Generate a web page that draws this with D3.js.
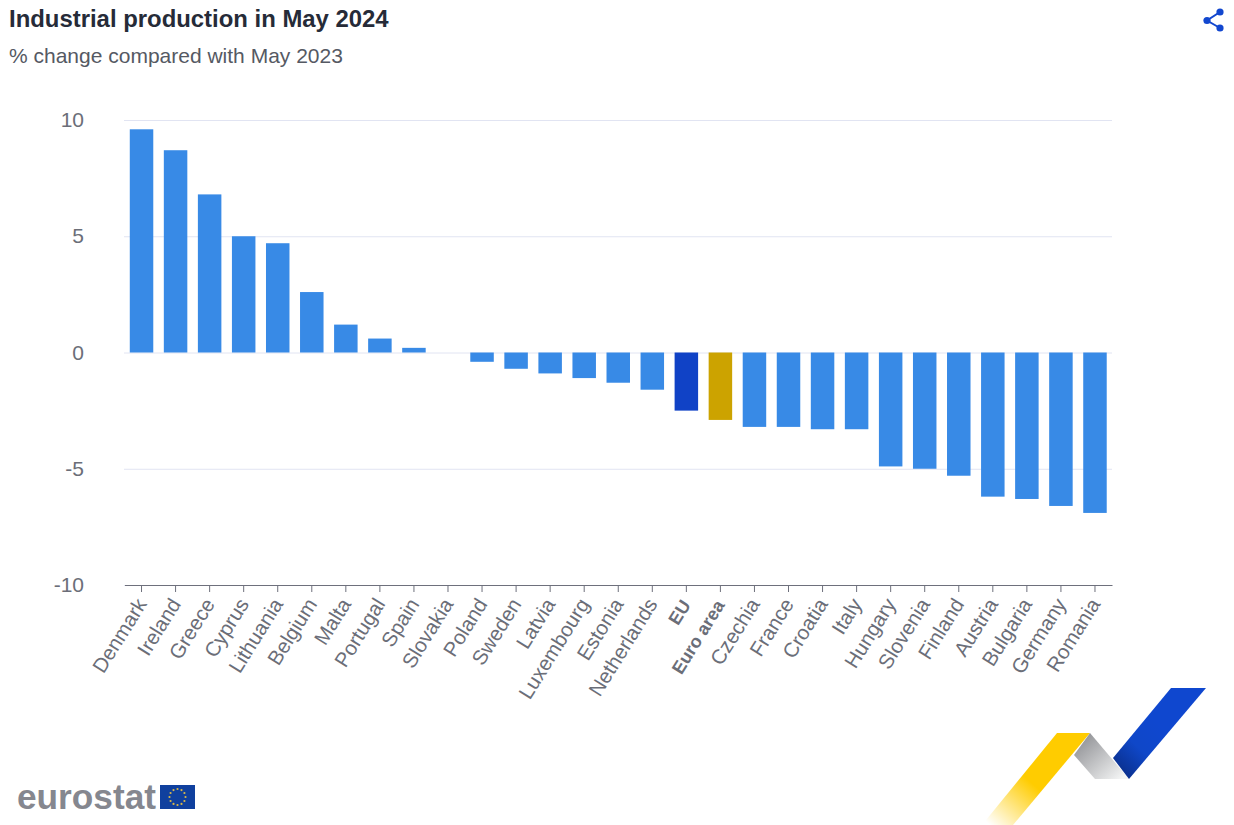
<!doctype html>
<html>
<head>
    <title>Industrial production in May 2024</title>
    <script src="https://d3js.org/d3.v7.min.js"></script>
    <style>
        html, body { margin: 0; padding: 0; background: #fff; }
        svg { display: block; font-family: "Liberation Sans", Arial, sans-serif; }
    </style>
</head>
<body>
<script>
    // chart data
    var countries = ['Denmark', 'Ireland', 'Greece', 'Cyprus', 'Lithuania', 'Belgium', 'Malta', 'Portugal',
        'Spain', 'Slovakia', 'Poland', 'Sweden', 'Latvia', 'Luxembourg', 'Estonia', 'Netherlands', 'EU',
        'Euro area', 'Czechia', 'France', 'Croatia', 'Italy', 'Hungary', 'Slovenia', 'Finland', 'Austria',
        'Bulgaria', 'Germany', 'Romania'];
    var changes = [9.6, 8.7, 6.8, 5.0, 4.7, 2.6, 1.2, 0.6, 0.2, 0, -0.4, -0.7, -0.9, -1.1, -1.3, -1.6, -2.5,
        -2.9, -3.2, -3.2, -3.3, -3.3, -4.9, -5.0, -5.3, -6.2, -6.3, -6.6, -6.9];
    var yTicks = [10, 5, 0, -5, -10];
    var aggregates = ['EU', 'Euro area'];

    var canvasWidth = 1234;
    var canvasHeight = 825;

    var svg = d3.select('body').append('svg')
        .attr('width', canvasWidth)
        .attr('height', canvasHeight);

    var defs = svg.append('defs');

    function gradient(id, x1, y1, x2, y2, stops) {
        var g = defs.append('linearGradient').attr('id', id)
            .attr('gradientUnits', 'userSpaceOnUse')
            .attr('x1', x1).attr('y1', y1).attr('x2', x2).attr('y2', y2);
        stops.forEach(function(s) {
            g.append('stop').attr('offset', s[0]).attr('stop-color', s[1]).attr('stop-opacity', s[2]);
        });
    }
    gradient('yellowFade', 1062, 745, 990, 825, [[0, '#ffcc00', 1], [0.45, '#ffcc00', 1], [1, '#ffcc00', 0]]);
    gradient('greyFade', 1078, 738, 1118, 782, [[0, '#8f9094', 1], [1, '#f4f5f5', 1]]);
    gradient('blueFade', 1165, 730, 1122, 775, [[0, '#0f47cf', 1], [0.5, '#0f47c8', 1], [1, '#0a2f8c', 1]]);

    // title
    svg.append('text').attr('x', 9).attr('y', 27)
        .style('font-size', '23.9px').style('font-weight', 'bold').attr('fill', '#262b38')
        .text('Industrial production in May 2024');
    svg.append('text').attr('x', 9).attr('y', 63)
        .style('font-size', '21px').attr('fill', '#555963')
        .text('% change compared with May 2023');

    // scales
    var xScale = d3.scaleBand().domain(countries).range([124.5, 1112]).paddingInner(0.31).paddingOuter(0.155);
    var yScale = d3.scaleLinear().domain([-10, 10]).range([585, 120]);

    // grid + y labels
    var yAxis = d3.axisLeft(yScale).tickValues(yTicks).tickSize(-988).tickFormat(d3.format('d'));
    var yG = svg.append('g').attr('transform', 'translate(124,0)').call(yAxis);
    yG.select('.domain').remove();
    yG.selectAll('.tick line').attr('stroke', '#e1e4f2').attr('stroke-width', 1);
    yG.selectAll('.tick text')
        .attr('fill', '#6b6e78')
        .style('font-size', '21px')
        .style('font-family', '"Liberation Sans", Arial, sans-serif')
        .attr('x', -40)
        .attr('text-anchor', 'end')
        .text(function(d) { return d; });

    // bars
    svg.append('g').selectAll('rect')
        .data(countries)
        .enter()
        .append('rect')
        .attr('x', function(d) { return xScale(d); })
        .attr('width', xScale.bandwidth())
        .attr('y', function(d, i) { return yScale(Math.max(0, changes[i])); })
        .attr('height', function(d, i) { return Math.abs(yScale(changes[i]) - yScale(0)); })
        .attr('fill', function(d) {
            if (d === 'EU') return '#1042c6';
            if (d === 'Euro area') return '#cca300';
            return '#388ae6';
        });

    // x axis
    var xAxis = d3.axisBottom(xScale).tickSizeInner(7).tickSizeOuter(0);
    var xG = svg.append('g').attr('transform', 'translate(0,585)').call(xAxis);
    xG.select('.domain').attr('stroke', '#6e707c').attr('stroke-width', 1.2);
    xG.selectAll('.tick line').attr('stroke', '#6e707c').attr('stroke-width', 1);
    xG.selectAll('.tick text')
        .attr('fill', '#6b6e78')
        .style('font-size', function(d) { return aggregates.indexOf(d) >= 0 ? '18px' : '20.5px'; })
        .style('font-family', '"Liberation Sans", Arial, sans-serif')
        .style('font-weight', function(d) { return aggregates.indexOf(d) >= 0 ? 'bold' : 'normal'; })
        .attr('text-anchor', 'end')
        .attr('x', 0).attr('y', 0).attr('dy', 0)
        .attr('transform', function(d) {
            return aggregates.indexOf(d) >= 0 ? 'translate(5,20) rotate(-58)' : 'translate(6,19) rotate(-58)';
        });

    // share icon
    var share = svg.append('g').attr('fill', '#1247cf').attr('stroke', '#1247cf');
    share.append('polyline').attr('points', '1220,12 1207,20.5 1220,28')
        .attr('fill', 'none').attr('stroke-width', 2);
    [[1220, 12], [1207, 20.5], [1220, 28]].forEach(function(p) {
        share.append('circle').attr('cx', p[0]).attr('cy', p[1]).attr('r', 3.6).attr('stroke', 'none');
    });

    // ribbon graphic bottom right
    svg.append('polygon').attr('points', '1057,733 1090,733 1013,825 982,825').attr('fill', 'url(#yellowFade)');
    svg.append('polygon').attr('points', '1090,733 1129,779 1095,779 1074,755').attr('fill', 'url(#greyFade)');
    svg.append('polygon').attr('points', '1171,688 1206,688 1129,779 1113,758').attr('fill', 'url(#blueFade)');

    // eurostat logo
    svg.append('text').attr('x', 17).attr('y', 809)
        .style('font-size', '35px').style('font-weight', 'bold').attr('fill', '#85878f')
        .attr('textLength', 139).attr('lengthAdjust', 'spacingAndGlyphs')
        .text('eurostat');
    svg.append('rect').attr('x', 160).attr('y', 785).attr('width', 35).attr('height', 24).attr('fill', '#10409e');
    d3.range(12).forEach(function(i) {
        var a = i * Math.PI / 6;
        svg.append('circle')
            .attr('cx', 177.5 + 8 * Math.cos(a))
            .attr('cy', 797 + 8 * Math.sin(a))
            .attr('r', 1.1)
            .attr('fill', '#d9b84a');
    });
</script>
</body>
</html>
